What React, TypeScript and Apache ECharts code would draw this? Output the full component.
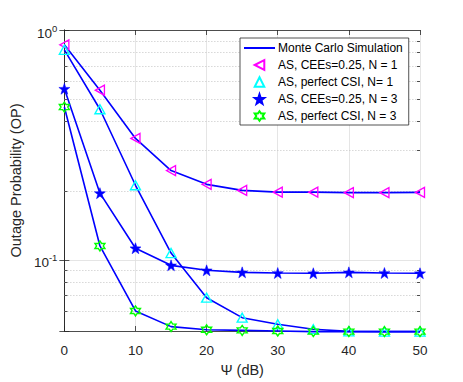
import React, { useEffect, useRef } from "react";
import * as echarts from "echarts";

const psi = [0, 5, 10, 15, 20, 25, 30, 35, 40, 45, 50];
const ceeN1 = [0.862, 0.547, 0.3375, 0.2445, 0.213, 0.2005, 0.197, 0.197, 0.196, 0.196, 0.1965];
const perfectN1 = [0.82, 0.452, 0.211, 0.107, 0.0684, 0.056, 0.0524, 0.0499, 0.0488, 0.0487, 0.0487];
const ceeN3 = [0.555, 0.195, 0.1123, 0.0946, 0.09, 0.0882, 0.0876, 0.0874, 0.0882, 0.0876, 0.0874];
const perfectN3 = [0.462, 0.1149, 0.0599, 0.0512, 0.0496, 0.0493, 0.049, 0.0487, 0.0487, 0.0487, 0.0487];
const minorTicks = [0.06, 0.07, 0.08, 0.09, 0.2, 0.3, 0.4, 0.5, 0.6, 0.7, 0.8, 0.9];

const names = [
  "AS, CEEs=0.25, N = 1",
  "AS, perfect CSI, N= 1",
  "AS, CEEs=0.25, N = 3",
  "AS, perfect CSI, N = 3",
];
const lineName = "Monte Carlo Simulation";

function starPath(n: number, ratio: number): string {
  const pts: string[] = [];
  for (let i = 0; i < n * 2; i++) {
    const r = i % 2 === 0 ? 50 : 50 * ratio;
    const a = -Math.PI / 2 + (i * Math.PI) / n;
    pts.push(`${(50 + r * Math.cos(a)).toFixed(2)},${(50 + r * Math.sin(a)).toFixed(2)}`);
  }
  return "path://M" + pts.join("L") + "Z";
}

const FONT = "Liberation Sans";
const AXIS = "#262626";
const GRID = "#dedede";

export default function App() {
  const ref = useRef<HTMLDivElement>(null);
  useEffect(() => {
    if (!ref.current) return;
    const chart = echarts.init(ref.current, null, { renderer: "svg" });
    const toPairs = (arr: number[]) => psi.map((x, i) => [x, arr[i]]);
    const allSets = [ceeN1, perfectN1, ceeN3, perfectN3];
    const markerDefs = [
      { symbol: "path://M0,50L100,0L100,100Z", size: [9, 10], color: "#ff00ff", fill: false },
      { symbol: "triangle", size: [10, 9], color: "#00ffff", fill: false },
      { symbol: starPath(5, 0.4), size: 11, color: "#0000ff", fill: true },
      { symbol: starPath(6, 0.58), size: 10, color: "#00ff00", fill: false },
    ];
    const lineSeries = allSets.map((arr) => ({
      type: "line",
      name: lineName,
      data: toPairs(arr),
      symbol: "none",
      clip: false,
      lineStyle: { color: "#0000ff", width: 1.6 },
      itemStyle: { color: "#0000ff" },
      z: 3,
    }));
    const markerSeries = allSets.map((arr, i) => ({
      type: "line",
      name: names[i],
      data: toPairs(arr),
      symbol: markerDefs[i].symbol,
      symbolSize: markerDefs[i].size,
      showSymbol: true,
      clip: false,
      lineStyle: { width: 0, opacity: 0 },
      itemStyle: markerDefs[i].fill
        ? { color: markerDefs[i].color, borderColor: markerDefs[i].color, borderWidth: 0.5 }
        : { color: "rgba(0,0,0,0)", borderColor: markerDefs[i].color, borderWidth: 1.4 },
      z: 4,
    }));
    const minorSeries = {
      type: "custom",
      name: "minor",
      silent: true,
      clip: false,
      z: 1,
      xAxisIndex: 0,
      yAxisIndex: 0,
      dimensions: ["x", "y"],
      encode: { x: 0, y: 1 },
      data: minorTicks.map((v) => [0, v]),
      renderItem: (params: any, api: any) => {
        const cs = params.coordSys;
        const p = api.coord([0, api.value(1)]);
        const y = Math.round(p[1]) + 0.5;
        return {
          type: "group",
          children: [
            {
              type: "line",
              shape: { x1: cs.x, y1: y, x2: cs.x + cs.width, y2: y },
              style: { stroke: "#c4c4c4", lineWidth: 1, lineDash: [1, 2] },
            },
            {
              type: "line",
              shape: { x1: cs.x, y1: y, x2: cs.x + 3, y2: y },
              style: { stroke: AXIS, lineWidth: 0.8 },
            },
            {
              type: "line",
              shape: { x1: cs.x + cs.width - 3, y1: y, x2: cs.x + cs.width, y2: y },
              style: { stroke: AXIS, lineWidth: 0.8 },
            },
          ],
        };
      },
    };
    const yLabel = (v: number) => {
      const e = Math.round(Math.log10(v));
      if (Math.abs(Math.log10(v) - e) > 1e-6) return "";
      return `{b|10}{s|${e}}`;
    };
    const yAxisBase = {
      type: "log",
      logBase: 10,
      min: 0.049,
      max: 1,
      axisLine: { show: true, lineStyle: { color: AXIS, width: 0.8 } },
      axisTick: { show: true, inside: true, length: 5, lineStyle: { color: AXIS, width: 0.8 } },
    };
    const option = {
      animation: false,
      backgroundColor: "#ffffff",
      textStyle: { fontFamily: FONT },
      grid: { left: 60, top: 30, width: 360, height: 304, containLabel: false },
      legend: {
        orient: "vertical",
        left: 240,
        top: 38,
        padding: [4, 6, 3, 3],
        itemWidth: 31,
        itemHeight: 12,
        itemGap: 5,
        backgroundColor: "#ffffff",
        borderColor: AXIS,
        borderWidth: 0.8,
        borderRadius: 0,
        textStyle: { fontFamily: FONT, fontSize: 12, color: "#000000", padding: [0, 0, 0, -2] },
        data: [
          { name: lineName, itemStyle: { opacity: 0 } },
          ...names.map((n) => ({ name: n })),
        ],
      },
      xAxis: [
        {
          type: "value",
          min: 0,
          max: 50,
          interval: 10,
          position: "bottom",
          name: "Ψ (dB)",
          nameLocation: "middle",
          nameGap: 31,
          nameTextStyle: { fontFamily: FONT, fontSize: 14.5, color: AXIS },
          axisLine: { show: true, lineStyle: { color: AXIS, width: 0.8 } },
          axisTick: { show: true, inside: true, length: 5, lineStyle: { color: AXIS, width: 0.8 } },
          axisLabel: { fontFamily: FONT, fontSize: 13.5, color: AXIS, margin: 12 },
          splitLine: { show: true, lineStyle: { color: GRID, width: 0.8 } },
        },
        {
          type: "value",
          min: 0,
          max: 50,
          interval: 10,
          position: "top",
          axisLine: { show: true, lineStyle: { color: AXIS, width: 0.8 } },
          axisTick: { show: true, inside: true, length: 5, lineStyle: { color: AXIS, width: 0.8 } },
          axisLabel: { show: false },
          splitLine: { show: false },
        },
      ],
      yAxis: [
        {
          ...yAxisBase,
          position: "left",
          name: "Outage Probability (OP)",
          nameLocation: "middle",
          nameGap: 33,
          nameTextStyle: { fontFamily: FONT, fontSize: 14.5, color: AXIS },
          axisLabel: {
            formatter: yLabel,
            margin: 7,
            rich: {
              b: { fontFamily: FONT, fontSize: 13.5, color: AXIS, padding: [6, 0, 0, 0] },
              s: { fontFamily: FONT, fontSize: 9.5, color: AXIS, padding: [0, 0, 4, 0] },
            },
          },
          splitLine: { show: true, lineStyle: { color: GRID, width: 0.8 } },
        },
        {
          ...yAxisBase,
          position: "right",
          axisLabel: { show: false },
          splitLine: { show: false },
        },
      ],
      series: [minorSeries, ...lineSeries, ...markerSeries],
    };
    chart.setOption(option as any);
    return () => chart.dispose();
  }, []);
  return (
    <div
      ref={ref}
      style={{ position: "fixed", left: 0, top: 0, width: 463, height: 382 }}
    />
  );
}
